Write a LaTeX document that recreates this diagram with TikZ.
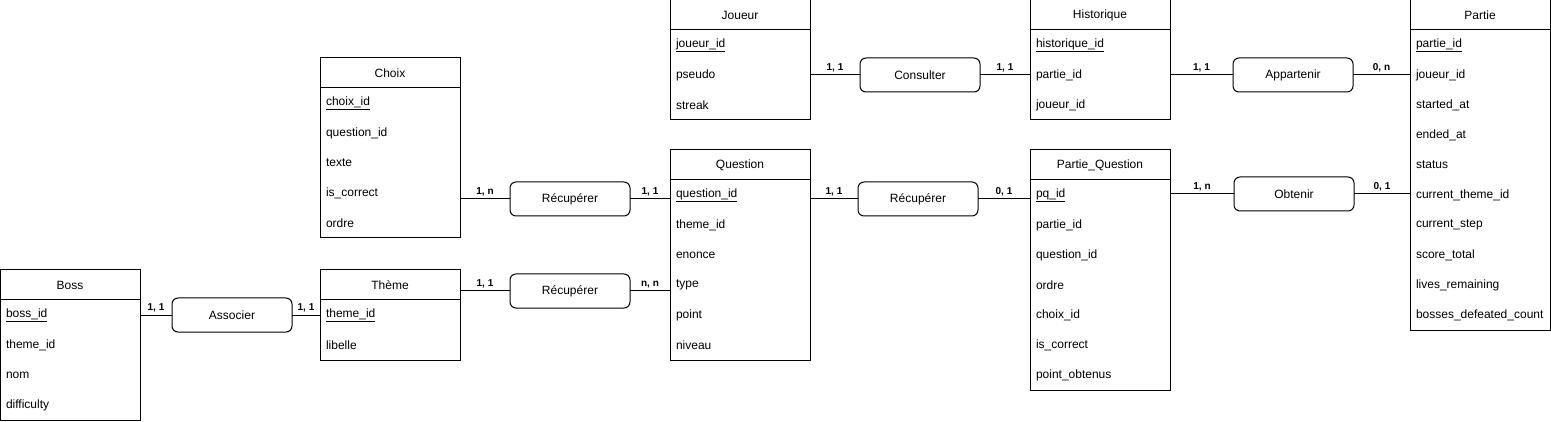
\documentclass[tikz,border=0pt]{standalone}
\usepackage{fontspec}
\setmainfont{Liberation Sans}
\usepackage{tikz}
\usetikzlibrary{positioning}

\begin{document}
\begin{tikzpicture}[x=1pt,y=-1pt,line width=1pt,
	head/.style={draw,minimum width=140,minimum height=30,outer sep=0,anchor=north west,font=\fontsize{12}{14}\selectfont},
	attr/.style={minimum width=140,minimum height=30,outer sep=0,text width=128,inner xsep=6,align=left,font=\fontsize{12}{14}\selectfont},
	rel/.style={draw,rounded corners=6,minimum width=120,minimum height=34,outer sep=0,font=\fontsize{12}{14}\selectfont},
	card/.style={above,inner sep=2,font=\bfseries\fontsize{10}{12}\selectfont}]
\useasboundingbox (0,0) rectangle (1551,422);
%	Boss
	\node[head] (boss) at (0,270) {Boss};
	\node[attr,below=0 of boss] (bossid) {\underline{boss\_id}};
	\node[attr,below=0 of bossid] (bossthm) {theme\_id};
	\node[attr,below=0 of bossthm] (bossnom) {nom};
	\node[attr,below=0 of bossnom] (bossdiff) {difficulty};
	\draw (boss.north west) rectangle (bossdiff.south east);
%	Theme
	\node[head] (thm) at (320,270) {Thème};
	\node[attr,below=0 of thm] (thmid) {\underline{theme\_id}};
	\node[attr,below=0 of thmid] (thmlib) {libelle};
	\draw (thm.north west) rectangle (thmlib.south east);
%	Choix
	\node[head] (choix) at (320,58) {Choix};
	\node[attr,below=0 of choix] (choixid) {\underline{choix\_id}};
	\node[attr,below=0 of choixid] (choixq) {question\_id};
	\node[attr,below=0 of choixq] (choixtxt) {texte};
	\node[attr,below=0 of choixtxt] (choixcorr) {is\_correct};
	\node[attr,below=0 of choixcorr] (choixord) {ordre};
	\draw (choix.north west) rectangle (choixord.south east);
%	Question
	\node[head] (quest) at (670,150) {Question};
	\node[attr,below=0 of quest] (qid) {\underline{question\_id}};
	\node[attr,below=0 of qid] (qthm) {theme\_id};
	\node[attr,below=0 of qthm] (qenon) {enonce};
	\node[attr,below=0 of qenon] (qtype) {type};
	\node[attr,below=0 of qtype] (qpoint) {point};
	\node[attr,below=0 of qpoint] (qniv) {niveau};
	\draw (quest.north west) rectangle (qniv.south east);
%	Joueur
	\node[head] (joueur) at (670,0) {Joueur};
	\node[attr,below=0 of joueur] (jid) {\underline{joueur\_id}};
	\node[attr,below=0 of jid] (jpseudo) {pseudo};
	\node[attr,below=0 of jpseudo] (jstreak) {streak};
	\draw (joueur.north west) rectangle (jstreak.south east);
%	Historique
	\node[head] (hist) at (1030,0) {Historique};
	\node[attr,below=0 of hist] (hid) {\underline{historique\_id}};
	\node[attr,below=0 of hid] (hpartie) {partie\_id};
	\node[attr,below=0 of hpartie] (hjoueur) {joueur\_id};
	\draw (hist.north west) rectangle (hjoueur.south east);
%	Partie_Question
	\node[head] (pq) at (1030,150) {Partie\_Question};
	\node[attr,below=0 of pq] (pqid) {\underline{pq\_id}};
	\node[attr,below=0 of pqid] (pqpartie) {partie\_id};
	\node[attr,below=0 of pqpartie] (pqquest) {question\_id};
	\node[attr,below=0 of pqquest] (pqord) {ordre};
	\node[attr,below=0 of pqord] (pqchoix) {choix\_id};
	\node[attr,below=0 of pqchoix] (pqcorr) {is\_correct};
	\node[attr,below=0 of pqcorr] (pqpts) {point\_obtenus};
	\draw (pq.north west) rectangle (pqpts.south east);
%	Partie
	\node[head] (partie) at (1410,0) {Partie};
	\node[attr,below=0 of partie] (pid) {\underline{partie\_id}};
	\node[attr,below=0 of pid] (pjoueur) {joueur\_id};
	\node[attr,below=0 of pjoueur] (pstart) {started\_at};
	\node[attr,below=0 of pstart] (pend) {ended\_at};
	\node[attr,below=0 of pend] (pstatus) {status};
	\node[attr,below=0 of pstatus] (pcurthm) {current\_theme\_id};
	\node[attr,below=0 of pcurthm] (pstep) {current\_step};
	\node[attr,below=0 of pstep] (pscore) {score\_total};
	\node[attr,below=0 of pscore] (plives) {lives\_remaining};
	\node[attr,below=0 of plives] (pbosses) {bosses\_defeated\_count};
	\draw (partie.north west) rectangle (pbosses.south east);
%	relations
	\node[rel] (assoc) at (232,315) {Associer};
	\node[rel] (recchoix) at (570,199) {Récupérer};
	\node[rel] (recthm) at (570,291) {Récupérer};
	\node[rel] (consult) at (920,75) {Consulter};
	\node[rel] (recpq) at (918,199) {Récupérer};
	\node[rel] (appart) at (1293,75) {Appartenir};
	\node[rel] (obtenir) at (1294,194) {Obtenir};
%	links
	\draw (bossid.east) -- node[card]{1, 1} (assoc.west);
	\draw (assoc.east) -- node[card]{1, 1} (thmid.west);
	\draw (recchoix.west -| choixcorr.east) -- node[card]{1, n} (recchoix.west);
	\draw (recchoix.east) -- node[card]{1, 1} (recchoix.east -| qid.west);
	\draw (recthm.west -| thm.east) -- node[card]{1, 1} (recthm.west);
	\draw (recthm.east) -- node[card]{n, n} (recthm.east -| qtype.west);
	\draw (jpseudo.east) -- node[card]{1, 1} (consult.west);
	\draw (consult.east) -- node[card]{1, 1} (hpartie.west);
	\draw (recpq.west -| qid.east) -- node[card]{1, 1} (recpq.west);
	\draw (recpq.east) -- node[card]{0, 1} (recpq.east -| pqid.west);
	\draw (hpartie.east) -- node[card]{1, 1} (appart.west);
	\draw (appart.east) -- node[card]{0, n} (pjoueur.west);
	\draw (obtenir.west -| pqid.east) -- node[card]{1, n} (obtenir.west);
	\draw (obtenir.east) -- node[card]{0, 1} (obtenir.east -| pcurthm.west);
\end{tikzpicture}
\end{document}
